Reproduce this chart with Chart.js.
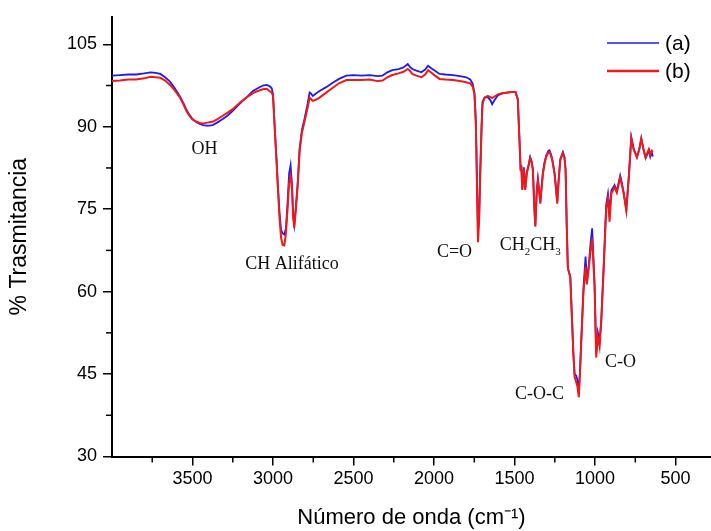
<!DOCTYPE html>
<html><head><meta charset="utf-8">
<script src="https://cdn.jsdelivr.net/npm/chart.js@4.4.0/dist/chart.umd.min.js"></script>
<style>html,body{margin:0;padding:0;background:#fff;overflow:hidden}</style>
</head><body>
<canvas id="c" width="711" height="531" style="display:block;width:711px;height:531px"></canvas>
<script>
const wavenumbers = [4000,3950,3900,3850,3800,3760,3730,3700,3670,3640,3610,3580,3555,3540,3520,3500,3475,3455,3435,3415,3395,3375,3350,3312,3280,3250,3220,3188,3155,3125,3095,3063,3040,3022,3008,3000,2991,2980,2970,2960,2950,2940,2930,2920,2910,2900,2891,2882,2875,2868,2858,2846,2835,2820,2804,2785,2773,2763,2753,2735,2711,2670,2629,2590,2545,2500,2450,2400,2350,2320,2290,2260,2220,2190,2163,2150,2135,2110,2079,2055,2037,2020,1994,1966,1930,1882,1840,1800,1775,1760,1749,1740,1733,1727,1720,1713,1705,1699,1686,1666,1650,1639,1625,1604,1580,1552,1520,1494,1480,1470,1462,1458,1452,1442,1434,1424,1412,1403,1394,1386,1378,1371,1362,1355,1346,1340,1332,1324,1314,1303,1290,1283,1274,1266,1252,1243,1235,1226,1216,1200,1190,1183,1176,1169,1160,1154,1142,1135,1127,1117,1110,1101,1093,1086,1072,1059,1051,1039,1028,1018,1010,1003,993,983,972,962,947,931,920,910,899,879,865,844,835,823,806,790,775,760,740,725,713,700,686,675,666,657,648,641];
const transA = [99.3,99.4,99.5,99.5,99.7,99.9,99.8,99.6,99.0,98.2,97.0,95.6,94.2,93.2,92.2,91.4,90.8,90.5,90.3,90.2,90.2,90.3,90.7,91.4,92.1,92.9,93.8,94.7,95.6,96.5,97.0,97.5,97.6,97.4,97.0,95.9,90.8,85.0,79.5,74.5,71.2,70.6,70.4,71.5,76.0,81.5,83.0,79.5,74.0,72.2,75.5,80.0,86.0,89.5,91.5,94.2,96.2,96.0,95.6,96.0,96.5,97.2,98.0,98.7,99.3,99.4,99.3,99.4,99.2,99.3,99.9,100.3,100.5,100.8,101.4,100.9,100.5,100.2,99.9,100.4,101.1,100.7,100.2,99.6,99.5,99.4,99.2,99.0,98.6,97.8,96.2,91.0,80.0,70.9,74.0,82.0,90.0,94.5,95.3,95.4,94.8,94.1,94.8,95.7,96.0,96.2,96.3,96.3,95.0,88.0,82.0,83.0,78.7,82.6,78.7,81.7,83.2,84.5,83.7,82.3,76.0,72.1,78.5,80.5,78.0,76.3,79.0,81.7,83.5,84.8,85.6,85.7,85.0,84.1,81.7,79.0,76.3,80.5,84.1,85.4,84.5,82.3,72.0,64.3,63.3,62.8,54.1,49.0,45.0,44.7,44.0,41.6,46.0,51.0,60.7,66.4,62.0,64.8,68.8,71.5,66.0,61.3,48.8,52.6,51.0,54.6,64.3,75.8,77.8,74.5,78.4,79.4,78.3,81.1,80.0,78.1,74.9,81.1,88.1,86.0,84.5,86.0,87.9,86.0,84.3,85.0,85.7,84.5,85.3,84.6];
const transB = [98.3,98.4,98.6,98.6,98.8,99.1,99.0,98.9,98.4,97.6,96.6,95.4,94.0,93.0,92.0,91.3,90.9,90.7,90.6,90.7,90.8,90.9,91.3,92.0,92.6,93.2,94.0,94.8,95.5,96.1,96.5,96.8,96.9,96.5,96.2,95.6,90.5,84.6,79.0,73.5,69.8,68.5,68.4,70.5,74.8,79.8,81.1,78.5,73.5,71.6,75.0,79.6,85.5,89.0,91.0,93.5,95.3,95.0,94.7,94.9,95.3,96.2,97.1,97.9,98.5,98.5,98.5,98.6,98.3,98.4,99.0,99.4,99.7,100.0,100.5,100.2,99.6,99.3,99.0,99.5,100.3,99.9,99.3,98.7,98.6,98.5,98.3,98.1,97.9,97.3,95.9,90.0,78.0,69.0,73.0,81.5,89.5,94.2,95.3,95.6,95.4,95.2,95.5,95.9,96.1,96.2,96.3,96.3,95.0,88.0,82.0,82.9,78.5,82.4,78.5,81.5,83.0,84.3,83.5,82.0,75.6,71.8,78.2,80.2,77.8,76.0,78.8,81.4,83.2,84.6,85.3,85.4,84.8,83.9,81.5,78.8,76.0,80.2,83.9,85.2,84.3,82.0,72.0,64.3,63.3,62.6,54.0,48.8,44.5,43.5,42.8,40.8,45.5,50.6,60.0,64.5,61.3,64.3,67.5,69.7,65.0,60.8,48.0,51.8,50.0,54.2,63.8,75.0,77.0,72.7,77.8,79.0,78.0,80.7,79.6,78.0,74.7,81.0,87.9,85.8,84.4,85.9,87.8,86.0,84.4,85.3,85.9,84.9,85.6,85.4];
const seriesLabels = ['(a)', '(b)'];
const xTickValues = [3500,3000,2500,2000,1500,1000,500];
const yTickValues = [30,45,60,75,90,105];
const xMinorTicks = [3750,3250,2750,2250,1750,1250,750];
const yMinorTicks = [37.5,52.5,67.5,82.5,97.5];
const bandLabels = [
  {text:'OH', x:3425, y:85.9},
  {text:'CH Alifático', x:2882, y:65.0},
  {text:'C=O', x:1873, y:67.1},
  {text:'C-O-C', x:1345, y:41.4},
  {text:'C-O', x:842, y:47.1}
];
const subLabel = {parts:[['CH',0],['2',1],['CH',0],['3',1]], x:1403, y:68.4};

const COL_A = '#1c1cf0', COL_B = '#f21818';

const extras = {
  id:'extras',
  afterDraw(chart){
    const ctx = chart.ctx, xs = chart.scales.x, ys = chart.scales.y;
    const ca = chart.chartArea;
    ctx.save();
    ctx.strokeStyle = '#000'; ctx.lineWidth = 1.5;
    xMinorTicks.forEach(v=>{ const p = xs.getPixelForValue(v); ctx.beginPath(); ctx.moveTo(p, ca.bottom); ctx.lineTo(p, ca.bottom+6); ctx.stroke(); });
    yMinorTicks.forEach(v=>{ const p = ys.getPixelForValue(v); ctx.beginPath(); ctx.moveTo(ca.left, p); ctx.lineTo(ca.left-6, p); ctx.stroke(); });
    ctx.fillStyle = '#111';
    ctx.font = '18px "Liberation Serif", "Times New Roman", serif';
    ctx.textAlign = 'center'; ctx.textBaseline = 'middle';
    bandLabels.forEach(b=>{ ctx.fillText(b.text, xs.getPixelForValue(b.x), ys.getPixelForValue(b.y)); });
    let total = 0;
    const fonts = ['18px "Liberation Serif", serif', '11px "Liberation Serif", serif'];
    subLabel.parts.forEach(([t,s])=>{ ctx.font = fonts[s]; total += ctx.measureText(t).width; });
    let cx = xs.getPixelForValue(subLabel.x) - total/2; const cy = ys.getPixelForValue(subLabel.y);
    ctx.textAlign = 'left';
    subLabel.parts.forEach(([t,s])=>{ ctx.font = fonts[s]; ctx.fillText(t, cx, cy + (s?7:0)); cx += ctx.measureText(t).width; });
    const ds = chart.data.datasets;
    const rows = [{y:43, w:1.6},{y:71, w:2.6}];
    ds.forEach((d,i)=>{
      ctx.strokeStyle = d.borderColor; ctx.lineWidth = rows[i].w;
      ctx.beginPath(); ctx.moveTo(607, rows[i].y); ctx.lineTo(659, rows[i].y); ctx.stroke();
      ctx.fillStyle = '#000'; ctx.font = '21px "Liberation Sans", Arial, sans-serif';
      ctx.textAlign = 'left'; ctx.textBaseline = 'middle';
      ctx.fillText(d.label, 665, rows[i].y + 1);
    });
    ctx.restore();
  }
};

const tickFont = {family:'"Liberation Sans", Arial, sans-serif', size:18};
new Chart(document.getElementById('c'), {
  type:'line',
  data:{ datasets:[
    {label:seriesLabels[0], data:wavenumbers.map((x,i)=>({x, y:transA[i]})), borderColor:COL_A, borderWidth:1.8, pointRadius:0, tension:0, order:1},
    {label:seriesLabels[1], data:wavenumbers.map((x,i)=>({x, y:transB[i]})), borderColor:COL_B, borderWidth:2, pointRadius:0, tension:0, order:0}
  ]},
  options:{
    responsive:false, animation:false, devicePixelRatio:1,
    layout:{padding:{top:13, right:0, left:0, bottom:0}},
    plugins:{legend:{display:false}, tooltip:{enabled:false}},
    scales:{
      x:{ type:'linear', reverse:true, min:280, max:4000,
        afterBuildTicks:s=>{ s.ticks = xTickValues.map(v=>({value:v})); },
        afterFit:s=>{ s.height = 74.5; },
        ticks:{ font:tickFont, color:'#000', padding:3, maxRotation:0, autoSkip:false, callback:v=>String(v) },
        grid:{ drawOnChartArea:false, drawTicks:true, tickLength:9, color:'#000', lineWidth:1.5 },
        border:{ color:'#000', width:2 },
        title:{ display:true, text:'Número de onda (cm⁻¹)', color:'#000', font:{family:'"Liberation Sans", Arial, sans-serif', size:22}, padding:{top:0,bottom:0} }
      },
      y:{ min:30, max:110,
        afterBuildTicks:s=>{ s.ticks = yTickValues.map(v=>({value:v})); },
        afterFit:s=>{ s.width = 112; },
        ticks:{ font:tickFont, color:'#000', padding:6, callback:v=>String(v) },
        grid:{ drawOnChartArea:false, drawTicks:true, tickLength:9, color:'#000', lineWidth:1.5 },
        border:{ color:'#000', width:2 },
        title:{ display:true, text:'% Trasmitancia', color:'#000', font:{family:'"Liberation Sans", Arial, sans-serif', size:23}, padding:{top:6,bottom:0} }
      }
    }
  },
  plugins:[extras]
});
</script>
</body></html>
